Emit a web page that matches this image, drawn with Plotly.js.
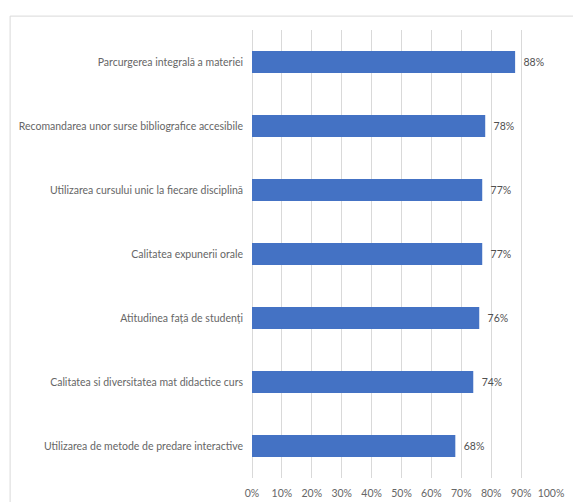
<!DOCTYPE html>
<html>
<head>
<meta charset="utf-8">
<script src="https://cdn.plot.ly/plotly-3.0.1.min.js"></script>
<style>
html,body{margin:0;padding:0;background:#fff;}
#chart{width:573px;height:502px;}
</style>
</head>
<body>
<div id="chart"></div>
<script>
const categories = [
  "Parcurgerea integrală a materiei",
  "Recomandarea unor surse bibliografice accesibile",
  "Utilizarea cursului unic la fiecare disciplină",
  "Calitatea expunerii orale",
  "Atitudinea față de studenți",
  "Calitatea si diversitatea mat didactice curs",
  "Utilizarea de metode de predare interactive"
];
const values = [0.88, 0.78, 0.77, 0.77, 0.76, 0.74, 0.68];
const tickVals = [0, 0.1, 0.2, 0.3, 0.4, 0.5, 0.6, 0.7, 0.8, 0.9, 1.0];
const tickText = ["0%", "10%", "20%", "30%", "40%", "50%", "60%", "70%", "80%", "90%", "100%"];

const font = "Lato, 'Open Sans', 'Liberation Sans', sans-serif";

const trace = {
  type: "bar",
  orientation: "h",
  x: values,
  y: categories,
  marker: {color: "#4472C4", line: {width: 0}},
  texttemplate: "\u00a0\u00a0%{x:.0%}",
  textposition: "outside",
  cliponaxis: false,
  textfont: {family: font, size: 10.5, color: "#505050"},
  hoverinfo: "none"
};

const layout = {
  width: 573,
  height: 502,
  margin: {l: 252, r: 22, t: 30, b: 24},
  paper_bgcolor: "#ffffff",
  plot_bgcolor: "#ffffff",
  bargap: 0.66,
  showlegend: false,
  font: {family: font, size: 10.5, color: "#666666"},
  xaxis: {
    range: [0, 1],
    tickvals: tickVals,
    ticktext: tickText,
    showgrid: true,
    gridcolor: "#d9d9d9",
    gridwidth: 1,
    zeroline: true,
    zerolinecolor: "#d9d9d9",
    zerolinewidth: 1,
    showline: false,
    ticks: "",
    ticklabelstandoff: 7,
    tickfont: {family: font, size: 10.5, color: "#666666"},
    fixedrange: true
  },
  yaxis: {
    autorange: "reversed",
    showgrid: false,
    zeroline: false,
    showline: false,
    ticks: "",
    ticklabelstandoff: 8,
    tickfont: {family: font, size: 10.5, color: "#666666"},
    fixedrange: true
  },
  shapes: [{
    type: "rect",
    xref: "paper", yref: "paper",
    x0: -0.809, x1: 2, y0: -1, y1: 1.031,
    line: {color: "#d9d9d9", width: 1},
    fillcolor: "rgba(0,0,0,0)",
    layer: "below"
  }]
};

Plotly.newPlot("chart", [trace], layout, {displayModeBar: false, staticPlot: true});
</script>
</body>
</html>
